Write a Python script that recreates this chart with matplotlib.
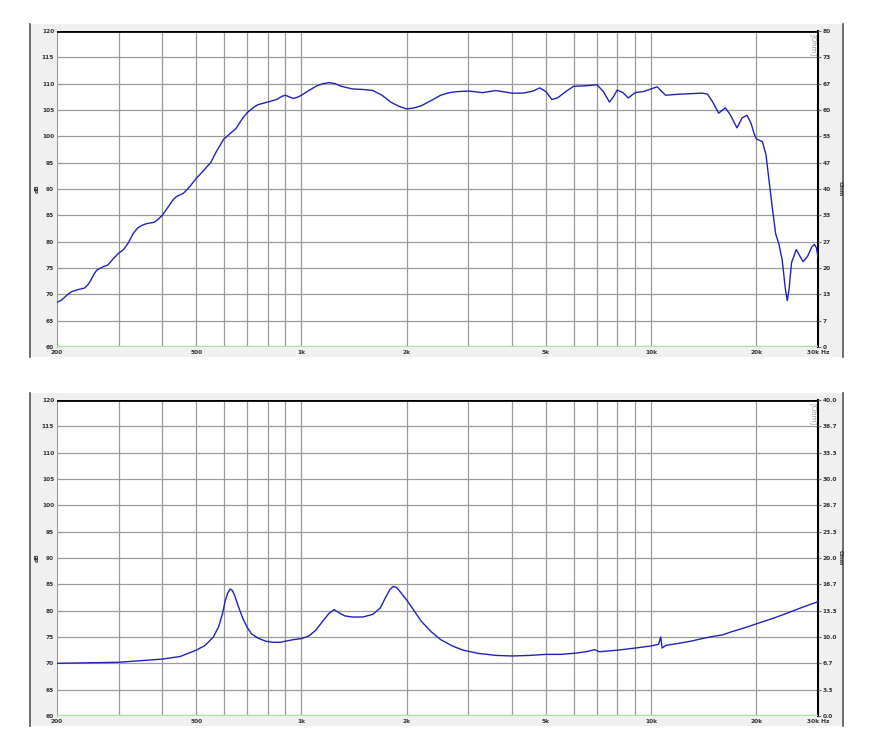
import matplotlib
matplotlib.use("Agg")
import matplotlib.pyplot as plt
from matplotlib.patches import Rectangle
from matplotlib.lines import Line2D

# frequency response (dB)
spl_freq = [200, 205, 210, 215, 220, 230, 240, 245, 250, 255, 260, 270, 280, 290, 300, 310,
            320, 330, 340, 350, 360, 380, 390, 400, 410, 420, 430, 440, 460, 480, 500, 520,
            550, 570, 600, 620, 650, 680, 700, 730, 750, 800, 850, 880, 900, 930, 950, 980,
            1000, 1050, 1100, 1150, 1200, 1250, 1300, 1400, 1500, 1600, 1700, 1800, 1900,
            2000, 2100, 2200, 2350, 2500, 2650, 2800, 3000, 3300, 3600, 4000, 4300, 4600,
            4800, 5000, 5200, 5400, 5700, 6000, 6500, 7000, 7300, 7600, 7800, 8000, 8300,
            8600, 9000, 9500, 10000, 10400, 10700, 11000, 12000, 13000, 14000, 14500, 15000,
            15600, 16000, 16300, 16800, 17600, 18200, 18800, 19300, 19700, 20000, 20800,
            21300, 21700, 22200, 22700, 23200, 23700, 24200, 24500, 24800, 25200, 26000,
            26600, 27200, 28000, 28800, 29300, 29700, 30000]
spl_db = [68.5, 68.8, 69.4, 70.0, 70.5, 70.9, 71.2, 71.8, 72.7, 73.8, 74.6, 75.2, 75.6, 76.8, 77.8, 78.5,
          79.8, 81.5, 82.6, 83.1, 83.4, 83.7, 84.3, 85.0, 86.0, 87.0, 88.0, 88.6, 89.2, 90.5, 92.0, 93.2,
          95.0, 97.0, 99.5, 100.3, 101.5, 103.5, 104.5, 105.5, 106.0, 106.5, 107.0, 107.6, 107.8, 107.4, 107.2, 107.5,
          107.8, 108.7, 109.5, 110.0, 110.2, 110.0, 109.5, 109.0, 108.9, 108.7, 107.8, 106.5, 105.7,
          105.2, 105.4, 105.8, 106.8, 107.8, 108.3, 108.5, 108.6, 108.3, 108.7, 108.2, 108.2, 108.6,
          109.2, 108.5, 107.0, 107.3, 108.5, 109.5, 109.6, 109.8, 108.5, 106.5, 107.5, 108.8, 108.3,
          107.3, 108.3, 108.5, 109.0, 109.4, 108.6, 107.8, 108.0, 108.1, 108.2, 108.0, 106.5,
          104.4, 105.0, 105.4, 104.2, 101.6, 103.5, 104.0, 102.5, 100.5, 99.5, 99.0,
          96.5, 92.0, 86.5, 81.5, 79.5, 76.5, 71.0, 68.8, 71.0, 76.0, 78.5,
          77.3, 76.2, 77.2, 79.0, 79.5, 78.8, 77.0]

# impedance (Ohm)
imp_freq = [200, 300, 400, 450, 500, 530, 560, 580, 595, 605, 615, 625, 635, 645, 660, 680,
            700, 720, 750, 790, 830, 870, 900, 950, 1000, 1050, 1100, 1150, 1200, 1240, 1280,
            1330, 1400, 1500, 1600, 1680, 1740, 1790, 1830, 1870, 1920, 2000, 2100, 2200,
            2350, 2500, 2700, 2900, 3200, 3600, 4000, 4500, 5000, 5500, 6000, 6500, 6900,
            7100, 8000, 9000, 10000, 10500, 10650, 10750, 11000, 12000, 13000, 14000, 15000,
            16000, 17000, 18000, 19000, 20000, 22000, 24000, 26000, 28000, 30000]
imp_ohm = [6.67, 6.8, 7.2, 7.53, 8.33, 8.93, 10.0, 11.33, 13.0, 14.53, 15.53, 16.07, 15.87, 15.2, 13.87, 12.33,
           11.2, 10.4, 9.87, 9.47, 9.33, 9.33, 9.47, 9.67, 9.8, 10.13, 10.87, 12.0, 13.0, 13.47, 13.07,
           12.67, 12.53, 12.53, 12.87, 13.67, 15.0, 16.0, 16.4, 16.27, 15.67, 14.67, 13.33, 12.0,
           10.67, 9.67, 8.87, 8.33, 7.93, 7.67, 7.6, 7.67, 7.8, 7.8, 7.93, 8.13, 8.4,
           8.13, 8.33, 8.6, 8.87, 9.07, 10.0, 8.6, 8.93, 9.2, 9.47, 9.8, 10.07,
           10.27, 10.67, 11.0, 11.33, 11.67, 12.27, 12.87, 13.47, 14.0, 14.47]

vgrid = [300, 400, 500, 600, 700, 800, 900, 1000, 2000, 3000, 4000, 5000, 6000, 7000,
         8000, 9000, 10000, 20000]
xticks = [200, 500, 1000, 2000, 5000, 10000, 20000, 30000]
xlabels = ["200", "500", "1k", "2k", "5k", "10k", "20k", "30k Hz"]
left_ticks = [60, 65, 70, 75, 80, 85, 90, 95, 100, 105, 110, 115, 120]
right_top = ["0", "7", "13", "20", "27", "33", "40", "47", "53", "60", "67", "73", "80"]
right_bot = ["0.0", "3.3", "6.7", "10.0", "13.3", "16.7", "20.0", "23.3", "26.7",
             "30.0", "33.3", "36.7", "40.0"]

W, H = 875, 750
fig = plt.figure(figsize=(W / 100, H / 100), dpi=100)
fs = 4.2
tc = "#333333"


def panel(top_px, right_labels):
    bot_px = top_px + 316
    # grey frame
    fig.patches.append(Rectangle((30 / W, 1 - (bot_px + 10) / H), 813 / W, (bot_px + 10 - top_px + 7) / H,
                                 transform=fig.transFigure, facecolor="#f0f0f0", edgecolor="none", zorder=-5))
    for xp in (30, 843):
        fig.lines.append(Line2D([xp / W, xp / W], [1 - (bot_px + 10) / H, 1 - (top_px - 7) / H],
                                transform=fig.transFigure, color="#555555", lw=1.2, zorder=-4))
    ax = fig.add_axes([57 / W, 1 - bot_px / H, 761 / W, 316 / H])
    ax.set_facecolor("white")
    ax.set_xscale("log")
    ax.set_xlim(200, 30000)
    ax.set_ylim(60, 120)
    for f in vgrid:
        ax.axvline(f, color="#9a9a9a", lw=0.9, zorder=1)
    for v in left_ticks[1:-1]:
        ax.axhline(v, color="#9a9a9a", lw=0.9, zorder=1)
    ax.axhline(120, color="black", lw=2, zorder=3)
    ax.axhline(60, color="#a8e6a0", lw=2.5, zorder=3)
    ax.spines["left"].set_color("#9a9a9a")
    ax.spines["right"].set_color("black")
    ax.spines["right"].set_linewidth(1.5)
    ax.spines["top"].set_visible(False)
    ax.spines["bottom"].set_visible(False)
    ax.set_xticks(xticks)
    ax.set_xticklabels(xlabels)
    ax.xaxis.set_minor_locator(plt.NullLocator())
    ax.set_yticks(left_ticks)
    ax.tick_params(axis="both", length=0, labelsize=fs, labelcolor=tc, pad=2)
    for lab in ax.get_xticklabels() + ax.get_yticklabels():
        lab.set_fontweight("bold")
    ax2 = ax.twinx()
    ax2.set_ylim(60, 120)
    ax2.set_yticks(left_ticks)
    ax2.set_yticklabels(right_labels)
    ax2.tick_params(axis="y", length=2, direction="out", labelsize=fs, labelcolor=tc, pad=1.5, color="#777777")
    for lab in ax2.get_yticklabels():
        lab.set_fontweight("bold")
    for s in ax2.spines.values():
        s.set_visible(False)
    mid = 1 - (top_px + 158) / H
    fig.text(37 / W, mid, "dB", rotation=90, ha="center", va="center", fontsize=fs, color=tc, fontweight="bold")
    fig.text(840.5 / W, mid, "Ohm", rotation=270, ha="center", va="center", fontsize=fs, color=tc, fontweight="bold")
    ax.text(0.997, 0.99, "[Ohm]", transform=ax.transAxes, rotation=270, ha="right", va="top",
            fontsize=5, color="#999999")
    return ax


ax1 = panel(31, right_top)
ax1.plot(spl_freq, spl_db, color="#2222bb", lw=1.0, zorder=4)

ax2 = panel(400, right_bot)
ax2.plot(imp_freq, [60 + z * 60 / 40 for z in imp_ohm], color="#2222bb", lw=1.0, zorder=4)

fig.savefig("out.png", dpi=100)
